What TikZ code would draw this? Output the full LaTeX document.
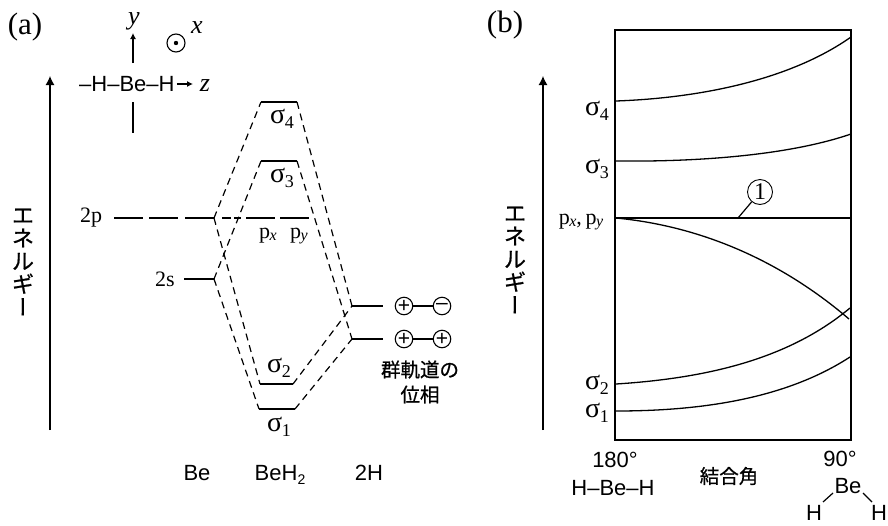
\documentclass[tikz,border=0pt]{standalone}
\usepackage{fontspec}
\setmainfont{Liberation Serif}
\setsansfont{Liberation Sans}
\newfontfamily\cjk{Noto Sans CJK JP}[FakeBold=0.8]
\newfontfamily\cjkv{Noto Sans CJK JP}[RawFeature={+vert},FakeBold=0.8]
\usetikzlibrary{arrows.meta}
\newcommand{\sigl}[1]{{\fontsize{28}{28}\selectfont σ}\kern-.5pt\raisebox{-5pt}{\fontsize{18}{18}\selectfont #1}}
\newcommand{\psub}[1]{p\kern-.5pt\raisebox{-1.5pt}{\fontsize{16}{16}\selectfont\itshape #1}}
\newcommand{\vkata}{{\cjk エ}\\{\cjk ネ}\\{\cjk ル}\\{\cjk ギ}\\{\cjkv ー}}
\tikzset{
 axisarrow/.style={line width=1.2pt,-{Latex[length=9pt,width=9pt]}},
 smallarrow/.style={line width=1.1pt,-{Latex[length=6pt,width=6pt]}},
 lev/.style={line width=1.6pt},
 thin line/.style={line width=1.2pt},
 dash line/.style={line width=1.2pt,dash pattern=on 7pt off 5pt},
 curve/.style={line width=1.3pt},
 frm/.style={line width=1.4pt},
 lab/.style={inner sep=0pt,font=\fontsize{22}{22}\selectfont},
 ital/.style={inner sep=0pt,font=\itshape\fontsize{26}{26}\selectfont},
 sans/.style={inner sep=0pt,font=\sffamily\fontsize{22}{24}\selectfont},
 panel/.style={inner sep=0pt,font=\fontsize{31}{31}\selectfont},
 kata/.style={inner sep=0pt,align=center,font=\fontsize{22}{23}\selectfont},
 jp/.style={inner sep=0pt,align=center,font=\cjk\fontsize{19.5}{25}\selectfont},
 phase/.style={circle,draw,line width=1.1pt,minimum size=17.5pt,inner sep=0pt,font=\sffamily\fontsize{21}{21}\selectfont},
}
\begin{document}
\begin{tikzpicture}[x=1pt,y=-1pt]
\useasboundingbox (0,0) rectangle (888,525);
% panel labels
\node[panel] (pa) at (25,27) {(a)};
\node[panel] (pb) at (505,25) {(b)};
% ---------- panel a ---------
\coordinate (ea0) at (50,430); \coordinate (ea1) at (50,76);
\draw[axisarrow] (ea0) -- (ea1);
\node[kata] (ka) at (23,262) {\vkata};
% axes
\coordinate (ya) at (133,63); \coordinate (yb) at (133,33);
\coordinate (yc) at (133,102); \coordinate (yd) at (133,133);
\draw[smallarrow] (ya) -- (yb);
\draw[thin line] (yc) -- (yd);
\node[ital] (ylab) at (134,21) {y};
\node[ital] (xlab) at (197,28) {x};
\node[ital] (zlab) at (205,86) {z};
\node[circle,draw,line width=1.1pt,minimum size=18pt,inner sep=0pt] (od) at (176,43) {};
\fill (od.center) circle (2.2pt);
\node[sans,anchor=west] (mol) at (79,84) {–H–Be–H};
\coordinate (zb) at (193,84);
\draw[smallarrow] (mol.east) ++(2,0) -- (zb);
% levels
\node[lab] (l2p) at (91,218) {2p};
\node[lab] (l2s) at (165,279) {2s};
\coordinate (p0) at (114,218); \coordinate (p1) at (143,218);
\coordinate (p2) at (149,218); \coordinate (p3) at (178,218);
\coordinate (p4) at (185,218); \coordinate (p5) at (214,218);
\coordinate (p6) at (222,218); \coordinate (p7) at (231,218);
\coordinate (p8) at (234,218); \coordinate (p9) at (241,218);
\coordinate (p10) at (246,218); \coordinate (p11) at (275,218);
\coordinate (p12) at (280,218); \coordinate (p13) at (309,218);
\draw[lev] (p0)--(p1) (p2)--(p3) (p4)--(p5) (p10)--(p11) (p12)--(p13);
\draw[thin line] (p6)--(p7) (p8)--(p9);
\coordinate (s0) at (184,279); \coordinate (s1) at (214,279);
\draw[lev] (s0)--(s1);
\coordinate (s4l) at (261,102); \coordinate (s4r) at (297,102);
\coordinate (s3l) at (261,161); \coordinate (s3r) at (297,161);
\coordinate (s2l) at (260,384); \coordinate (s2r) at (293,384);
\coordinate (s1l) at (259,409); \coordinate (s1r) at (295,409);
\coordinate (ul) at (352,306); \coordinate (ur) at (383,306);
\coordinate (dl) at (352,339); \coordinate (dr) at (383,339);
\draw[lev] (s4l)--(s4r) (s3l)--(s3r) (s2l)--(s2r) (s1l)--(s1r) (ul)--(ur) (dl)--(dr);
% dashed correlation lines
\draw[dash line] (p5)--(s4l);
\draw[dash line] (s1)--(s3l);
\draw[dash line] (p5)--(s2l);
\draw[dash line] (s1)--(s1l);
\draw[dash line] (s4r)--(ul);
\draw[dash line] (s3r)--(dl);
\draw[dash line] (s2r)--(ul);
\draw[dash line] (s1r)--(dl);
% sigma labels
\node[inner sep=0pt] (t4) at (282,119) {\sigl{4}};
\node[inner sep=0pt] (t3) at (282,178) {\sigl{3}};
\node[inner sep=0pt] (t2) at (279,368) {\sigl{2}};
\node[inner sep=0pt] (t1) at (279,427) {\sigl{1}};
\node[lab] (tpx) at (268,236) {\psub{x}};
\node[lab] (tpy) at (299,236) {\psub{y}};
% phases
\node[phase] (a1) at (404,306) {+};
\node[phase] (a2) at (442,306) {–};
\node[phase] (b1) at (404,339) {+};
\node[phase] (b2) at (442,339) {+};
\draw[thin line] (a1)--(a2) (b1)--(b2);
\node[jp] (gr) at (420,382) {群軌道の\\位相};
% bottom
\node[sans] (nb1) at (197,473) {Be};
\node[sans] (nb2) at (280,475) {BeH\raisebox{-4pt}{\fontsize{14}{14}\selectfont 2}};
\node[sans] (nb3) at (369,473) {2H};
% ---------- panel b ---------
\coordinate (eb0) at (543,430); \coordinate (eb1) at (543,76);
\draw[axisarrow] (eb0) -- (eb1);
\node[kata] (kb) at (515,260) {\vkata};
\coordinate (f0) at (615,30); \coordinate (f1) at (851,440);
\draw[frm] (f0) rectangle (f1);
\coordinate (c4a) at (616,101); \coordinate (c4b) at (851,37);
\coordinate (c3a) at (616,161); \coordinate (c3b) at (851,134);
\coordinate (cpa) at (616,218); \coordinate (cpb) at (851,218);
\coordinate (cfb) at (849,319);
\coordinate (c2a) at (616,384); \coordinate (c2b) at (850,308);
\coordinate (c1a) at (616,411); \coordinate (c1b) at (850,357);
\draw[curve] (c4a) .. controls (700,98) and (790,80) .. (c4b);
\draw[curve] (c3a) .. controls (700,162) and (790,155) .. (c3b);
\draw[curve] (cpa) -- (cpb);
\draw[curve] (cpa) .. controls (700,226) and (780,260) .. (cfb);
\draw[curve] (c2a) .. controls (710,378) and (790,358) .. (c2b);
\draw[curve] (c1a) .. controls (710,411) and (790,396) .. (c1b);
\node[inner sep=0pt] (u4) at (597,111) {\sigl{4}};
\node[inner sep=0pt] (u3) at (597,169) {\sigl{3}};
\node[lab] (upx) at (581,222) {\psub{x},\,\psub{y}};
\node[inner sep=0pt] (u2) at (597,385) {\sigl{2}};
\node[inner sep=0pt] (u1) at (597,413) {\sigl{1}};
\node[circle,draw,line width=.9pt,minimum size=25pt,inner sep=0pt,font=\fontsize{24}{24}\selectfont] (n1) at (760,192) {1};
\coordinate (n1f) at (738,218);
\draw[thin line] (n1f) -- (n1);
% b labels
\node[sans] (a180) at (615,460) {180°};
\node[sans] (hbe) at (613,488) {H–Be–H};
\node[jp] (ang) at (729,476) {結合角};
\node[sans] (a90) at (840,459) {90°};
\node[sans] (be) at (848,486) {Be};
\node[sans] (h1) at (814,513) {H};
\node[sans] (h2) at (879,513) {H};
\coordinate (b1a) at (823,502); \coordinate (b1b) at (833,493);
\coordinate (b2a) at (863,493); \coordinate (b2b) at (872,502);
\draw[thin line] (b1a)--(b1b) (b2a)--(b2b);
\end{tikzpicture}
\end{document}
